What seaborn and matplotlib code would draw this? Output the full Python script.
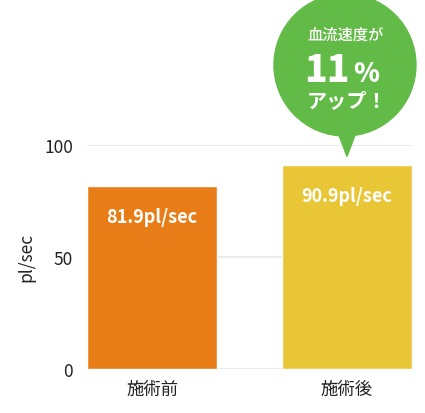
import matplotlib
matplotlib.use("Agg")
import matplotlib.pyplot as plt
import seaborn as sns
import pandas as pd
from matplotlib.patches import Circle, Polygon

categories = ["施術前", "施術後"]
values = [81.9, 90.9]
value_labels = ["81.9pl/sec", "90.9pl/sec"]
bar_colors = ["#E87D18", "#E8C636"]
y_ticks = [0, 50, 100]
y_label = "pl/sec"
bubble_lines = ["血流速度が", "11", "%", "アップ！"]

sns.set_theme(style="white")
plt.rcParams["font.family"] = ["Noto Sans CJK JP", "DejaVu Sans"]

W, H = 425, 414
fig = plt.figure(figsize=(W / 100, H / 100), dpi=100)
ax = fig.add_axes([87 / W, (H - 370) / H, (412 - 87) / W, (370 - 146) / H])

df = pd.DataFrame({"cat": categories, "val": values})
sns.barplot(data=df, x="cat", y="val", hue="cat", palette=bar_colors,
            width=0.667, legend=False, ax=ax, saturation=1, zorder=3)

ax.set_xlim(-0.3335, 1.3335)
ax.set_ylim(0, 100)
ax.set_yticks(y_ticks)
ax.yaxis.grid(True, color="#e6e6e6", linewidth=1.2, zorder=0)
ax.xaxis.grid(False)
for s in ax.spines.values():
    s.set_visible(False)
ax.tick_params(axis="both", length=0, labelsize=12.5, colors="#222222")
ax.tick_params(axis="y", pad=10)
ax.tick_params(axis="x", pad=8)
ax.set_xlabel("")
ax.set_ylabel(y_label, fontsize=12.5, color="#222222")
ax.yaxis.set_label_coords(-0.16, 0.5)

for i, (v, lab) in enumerate(zip(values, value_labels)):
    ax.annotate(lab, (i, v), xytext=(0, -22), textcoords="offset points",
                ha="center", va="center", color="white", fontsize=13,
                fontweight="bold", zorder=5)

# bubble anchored above second bar, drawn in pixel coordinates
fig.canvas.draw()
tip = ax.transData.transform((1, values[1]))
tip_x = tip[0]
tip_y = H - tip[1]  # top-down pixel coords
ov = fig.add_axes([0, 0, 1, 1], zorder=10)
ov.set_xlim(0, W)
ov.set_ylim(H, 0)
ov.axis("off")
green = "#62BB46"
cx, cy, r = tip_x - 2, 66, 71
ov.add_patch(Circle((cx, cy), r, color=green))
ov.add_patch(Polygon([(tip_x - 10, cy + r - 6), (tip_x + 10, cy + r - 6),
                      (tip_x, tip_y - 9)], closed=True, color=green))
ov.text(cx + 1, 35, bubble_lines[0], ha="center", va="center", color="white",
        fontsize=11, fontweight="medium")
ov.text(cx + 5, 82, bubble_lines[1], ha="right", va="baseline", color="white",
        fontsize=27, fontweight="black")
ov.text(cx + 8, 82, bubble_lines[2], ha="left", va="baseline", color="white",
        fontsize=19, fontweight="black")
ov.text(cx + 2, 101, bubble_lines[3], ha="center", va="center", color="white",
        fontsize=14.5, fontweight="bold")

fig.savefig("out.png", dpi=100)
